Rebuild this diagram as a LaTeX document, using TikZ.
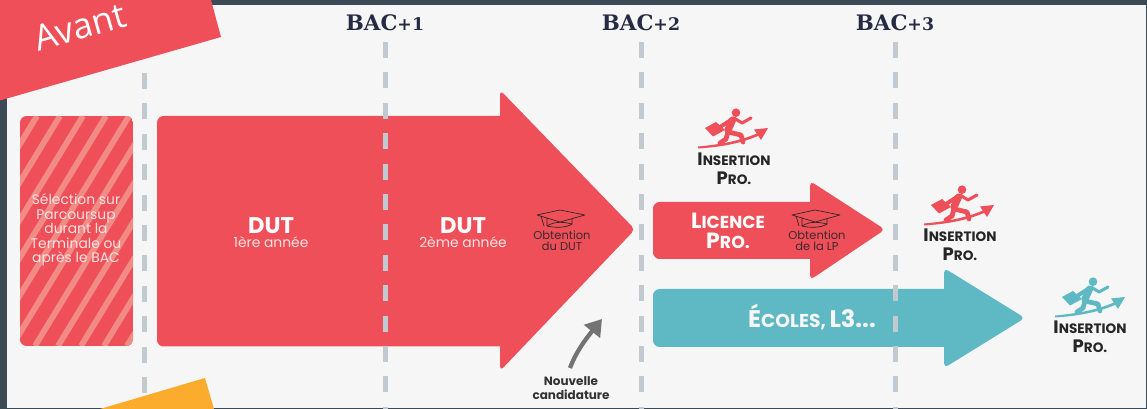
\documentclass[tikz,border=0pt]{standalone}
\usepackage{fontspec}
\setmainfont{Poppins}
\newfontfamily\bacfont{DejaVu Serif}
\newfontfamily\avantfont{Open Sans}
\usetikzlibrary{arrows.meta}
\definecolor{frameC}{HTML}{3B4A54}
\definecolor{paperC}{HTML}{F6F6F7}
\definecolor{redC}{HTML}{EF4F58}
\definecolor{tealC}{HTML}{5FB9C4}
\definecolor{stripeC}{HTML}{F28A86}
\definecolor{dashC}{HTML}{C2CAD1}
\definecolor{orangeC}{HTML}{FBAC2C}
\definecolor{bacC}{HTML}{262B45}
\definecolor{softC}{HTML}{FBE3E1}
\definecolor{darkC}{HTML}{3A2A2E}
\newcommand{\fs}[1]{\fontsize{#1}{#1}\selectfont}
\newcommand{\scT}[2]{{\fs{#1}\textbf{#2}}}
\newcommand{\insertionText}{\scT{13.5}{I}\scT{10.2}{NSERTION}\\[2pt]\scT{13.5}{P}\scT{10.2}{RO.}}
\tikzset{
  txt/.style={inner sep=0pt,outer sep=0pt,align=center},
  yearline/.style={draw=dashC,line width=3.75pt,dash pattern=on 12pt off 10.8pt},
  bac/.style={txt,text=bacC,font=\bacfont\bfseries\fontsize{16}{16}\selectfont},
  title/.style={txt,text=white,font=\fontsize{17}{17}\selectfont\bfseries},
  sub/.style={txt,text=softC,font=\fontsize{10.4}{10.4}\selectfont},
  tiny/.style={txt,text=darkC,font=\fontsize{8.6}{8.4}\selectfont},
  ins/.style={txt,text=black!85},
  capline/.style={draw=black!85,line width=.5pt,line join=round},
  head/.style={rounded corners=3.5pt},
  shaft/.style={rounded corners=5pt}
}
\newcommand{\gradCap}[2]{%
 \begin{scope}[shift={(#1,#2)}]
  \draw[capline] (537,215) -- (560,210) -- (585,215) -- (560,222) -- cycle;
  \draw[capline] (547,218) -- (547,226) .. controls (555,228) and (566,228) .. (572,224) -- (572,219);
  \draw[capline] (547,226) .. controls (555,221) and (564,222) .. (572,224);
  \draw[capline] (541,216) -- (544,226);
 \end{scope}}
\newcommand{\runnerIcon}[3]{%
 \begin{scope}[shift={(#1,#2)}]
  \fill[#3] (736,112.7) circle[radius=4.3];
  \draw[#3,line width=5.4pt,line cap=round,line join=round] (732.5,120) -- (728,130);
  \draw[#3,line width=2.3pt,line cap=round,line join=round] (734,118) -- (742,123) -- (751,118);
  \draw[#3,line width=3pt,line join=round] (731,120) -- (720,127);
  \draw[#3,line width=3.6pt,line cap=round,line join=round] (728,132) -- (741,135) -- (743,142);
  \draw[#3,line width=3.6pt,line cap=round,line join=round] (728,132) -- (726,139) -- (720,143);
  \fill[#3] (705,128) -- (716,122) -- (725,130) -- (713,136.5) -- cycle;
  \fill[#3] (698,146.5) .. controls (725,144) and (742,140) .. (758,133) -- (759,135.5) .. controls (742,143) and (722,147) .. (698,148.5) -- cycle;
  \fill[#3] (768,128) -- (754,129.5) -- (761,140) -- cycle;
 \end{scope}}
\begin{document}
\begin{tikzpicture}[x=.75pt,y=-.75pt]
\useasboundingbox (0,0) rectangle (1147,409);
\clip (0,0) rectangle (1147,409);
% frame
\fill[frameC] (0,0) rectangle (1147,409);
\fill[paperC] (7,5) rectangle (1146,408);
% striped selection box
\begin{scope}
 \clip[rounded corners=5pt] (20,116) rectangle (133,346);
 \fill[redC] (20,116) rectangle (133,346);
 \foreach \k in {-7,...,9}
  \draw[stripeC,line width=4.4pt] ({\k*23+12},346) -- ({\k*23+12+140},116);
\end{scope}
% main arrows
\fill[redC,shaft] (157,116) rectangle (520,346.5);
\fill[redC,head] (500,90) -- (635,229.5) -- (500,371) -- cycle;
\fill[redC,shaft] (653,202) rectangle (830,259);
\fill[redC,head] (810,181) -- (885,229.5) -- (810,280) -- cycle;
\fill[tealC,shaft] (653,289) rectangle (960,347);
\fill[tealC,head] (944,268) -- (1025,318) -- (944,368) -- cycle;
% year lines
\foreach \x/\s in {144/73,385/42,641/42,895/42}
  \draw[yearline] (\x,\s) -- (\x,409);
% ribbons
\fill[redC] (0,0) -- (211,0) -- (221,37) -- (0,100.5) -- cycle;
\fill[orangeC] (100,409) -- (205,378) -- (214,409) -- cycle;
\node[txt,rotate=16,text=white,font=\avantfont\fontsize{26.5}{26.5}\selectfont] (avant) at (80,27) {Avant};
% years
\node[bac] (b1) at (385,23) {BAC\fontsize{13}{13}\selectfont+1};
\node[bac] (b2) at (641,23) {BAC\fontsize{13}{13}\selectfont+2};
\node[bac] (b3) at (895,23) {BAC\fontsize{13}{13}\selectfont+3};
% labels
\node[sub,font=\fontsize{10.4}{10.8}\selectfont] (sel) at (76,230) {Sélection sur\\Parcoursup\\durant la\\Terminale ou\\après le BAC};
\node[title] (dut1) at (271,226) {DUT};
\node[sub] (an1) at (271,242) {1ère année};
\node[title] (dut2) at (463,226) {DUT};
\node[sub] (an2) at (463,242) {2ème année};
\gradCap{0}{0}
\gradCap{255}{0}
\node[tiny] (obt1) at (562,241) {Obtention\\du DUT};
\node[tiny] (obt2) at (817,241) {Obtention\\de la LP};
\node[txt,text=white] (lic) at (728,231) {\scT{16.5}{L}\scT{13}{ICENCE}\\[3pt]\scT{16.5}{P}\scT{13}{RO.}};
\node[txt,text=paperC] (eco) at (812,317) {\scT{18}{É}\scT{14}{COLES,} \scT{18}{L3...}};
\node[ins] (ins1) at (734,169) {\insertionText};
\node[ins] (ins2) at (960,245) {\insertionText};
\node[ins] (ins3) at (1090,337) {\insertionText};
\runnerIcon{0}{0}{redC}
\runnerIcon{226}{77}{redC}
\runnerIcon{357}{169}{tealC}
% new application
\node[txt,text=black!80,font=\fontsize{9}{10}\selectfont\bfseries] (nouv) at (571,388) {Nouvelle\\candidature};
\coordinate (ntail) at (570,368);
\coordinate (ntip) at (602,319);
\draw[black!55,line width=3.2pt,-{Triangle[length=12pt,width=15pt]}] (ntail) .. controls (576,352) and (585,340) .. (ntip);
\end{tikzpicture}
\end{document}
